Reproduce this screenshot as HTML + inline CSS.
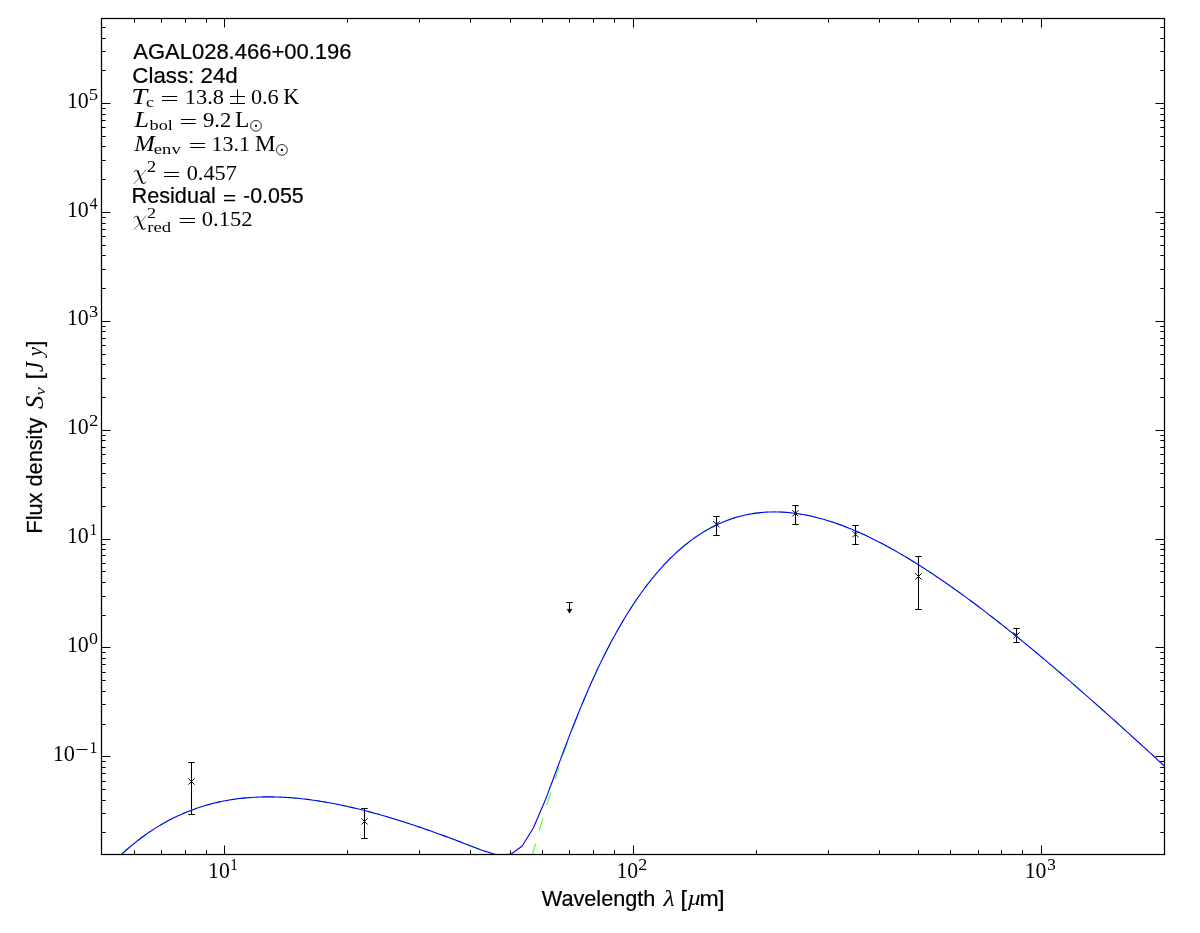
<!DOCTYPE html>
<html><head><meta charset="utf-8"><title>SED</title>
<style>html,body{margin:0;padding:0;background:#fff}svg{display:block;will-change:transform}text{fill:#000}</style>
</head><body>
<svg width="1200" height="933" viewBox="0 0 1200 933">
<rect width="1200" height="933" fill="#fff"/>
<defs><clipPath id="ax"><rect x="101.5" y="18.5" width="1063.0" height="836.0"/></clipPath></defs>
<g stroke="#000" fill="none">
<path d="M191.5 762.5V814.5M188.3 762.5H194.7M188.3 814.5H194.7" stroke-width="1.05"/>
<path d="M188.4 778.4L194.6 784.6M188.4 784.6L194.6 778.4" stroke-width="1.0"/>
<path d="M364.5 808.5V838.5M361.3 808.5H367.7M361.3 838.5H367.7" stroke-width="1.05"/>
<path d="M361.4 818.3L367.6 824.5M361.4 824.5L367.6 818.3" stroke-width="1.0"/>
<path d="M716.5 516.5V535.5M713.3 516.5H719.7M713.3 535.5H719.7" stroke-width="1.05"/>
<path d="M713.4 521.1999999999999L719.6 527.4M713.4 527.4L719.6 521.1999999999999" stroke-width="1.0"/>
<path d="M795.5 505.5V524.5M792.3 505.5H798.7M792.3 524.5H798.7" stroke-width="1.05"/>
<path d="M792.4 510.19999999999993L798.6 516.4M792.4 516.4L798.6 510.19999999999993" stroke-width="1.0"/>
<path d="M855.5 525.5V544.5M852.3 525.5H858.7M852.3 544.5H858.7" stroke-width="1.05"/>
<path d="M852.4 531.1L858.6 537.3000000000001M852.4 537.3000000000001L858.6 531.1" stroke-width="1.0"/>
<path d="M918.5 556.5V609.5M915.3 556.5H921.7M915.3 609.5H921.7" stroke-width="1.05"/>
<path d="M915.4 573.4L921.6 579.6M915.4 579.6L921.6 573.4" stroke-width="1.0"/>
<path d="M1016.5 628.5V642.5M1013.3 628.5H1019.7M1013.3 642.5H1019.7" stroke-width="1.05"/>
<path d="M1013.4 632.3L1019.6 638.5M1013.4 638.5L1019.6 632.3" stroke-width="1.0"/>
<path d="M569.5 602.5V610M566.3 602.5H572.7" stroke-width="1.05"/>
<path d="M567.1 609.2H571.9L569.5 613.2Z" fill="#000" stroke-width="0.5"/>
</g>
<g clip-path="url(#ax)" fill="none">
<polyline points="520.75,899.44 521.00,898.45 521.25,897.46 521.50,896.46 521.75,895.48 522.00,894.49 522.25,893.50 522.50,892.52 522.75,891.54 523.00,890.56 523.25,889.58 523.50,888.60 523.75,887.63 524.00,886.65 524.25,885.68 524.50,884.71 524.75,883.74 525.00,882.78 525.25,881.81 525.50,880.85 525.75,879.89 526.00,878.93 526.25,877.98 526.50,877.02 526.75,876.07 527.00,875.12 527.25,874.17 527.50,873.22 527.75,872.27 528.00,871.33 528.25,870.39 528.50,869.45 528.75,868.51 529.00,867.57 529.25,866.63 529.50,865.70 529.75,864.77 530.00,863.84 530.25,862.91 530.50,861.98 530.75,861.06 531.00,860.14 531.25,859.21 531.50,858.30 531.75,857.38 532.00,856.46 532.25,855.55 532.50,854.63 532.75,853.72 533.00,852.81 533.25,851.91 533.50,851.00 533.75,850.10 534.00,849.19 534.25,848.29 534.50,847.39 534.75,846.50 535.00,845.60 535.25,844.71 535.50,843.82 535.75,842.93 536.00,842.04 536.25,841.15 536.50,840.27 536.75,839.38 537.00,838.50 537.25,837.62 537.50,836.74 537.75,835.86 538.00,834.99 538.25,834.12 538.50,833.24 538.75,832.37 539.00,831.51 539.25,830.64 539.50,829.77 539.75,828.91 540.00,828.05 540.25,827.19 540.50,826.33 540.75,825.47 541.00,824.62 541.25,823.76 541.50,822.91 541.75,822.06 542.00,821.21 542.25,820.37 542.50,819.52 542.75,818.68 543.00,817.84 543.25,817.00 543.50,816.16 543.75,815.32 544.00,814.48 544.25,813.65 544.50,812.82 544.75,811.99 545.00,811.16 545.25,810.33 545.50,809.51 545.75,808.68 546.00,807.86 546.25,807.04 546.50,806.22 546.75,805.40 547.00,804.58 547.25,803.77 547.50,802.96 547.75,802.15 548.00,801.34 548.25,800.53 548.50,799.72 548.75,798.92 549.00,798.11 549.25,797.31 549.50,796.51 549.75,795.71 550.00,794.91 550.25,794.12 550.50,793.32 550.75,792.53 551.00,791.74 551.25,790.95 551.50,790.16 551.75,789.38 552.00,788.59 552.25,787.81 552.50,787.03 552.75,786.25 553.00,785.47 553.25,784.69 553.50,783.92 553.75,783.14 554.00,782.37 554.25,781.60 554.50,780.83 554.75,780.06 555.00,779.30 555.25,778.53 555.50,777.77 555.75,777.01 556.00,776.25 556.25,775.49 556.50,774.73 556.75,773.98 557.00,773.22 557.25,772.47 557.50,771.72 557.75,770.97 558.00,770.22 558.25,769.47 558.50,768.73 558.75,767.99 559.00,767.24 559.25,766.50 559.50,765.76 559.75,765.03 560.00,764.29 560.25,763.56 560.50,762.82 560.75,762.09 561.00,761.36 561.25,760.63 561.50,759.90 561.75,759.18 562.00,758.45 562.25,757.73 562.50,757.01 562.75,756.29 563.00,755.57 563.25,754.85 563.50,754.14 563.75,753.43 564.00,752.71 564.25,752.00 564.50,751.29 564.75,750.58 565.00,749.88 565.25,749.17 565.50,748.47 565.75,747.76 566.00,747.06 566.25,746.36 566.50,745.67 566.75,744.97 567.00,744.27 567.25,743.58 567.50,742.89 567.75,742.20 568.00,741.51 568.25,740.82 568.50,740.13 568.75,739.45 569.00,738.76 569.25,738.08 569.50,737.40 569.75,736.72 570.00,736.04 570.25,735.36 570.50,734.69 570.75,734.01 571.00,733.34 571.25,732.67 571.50,732.00 571.75,731.33 572.00,730.66 572.25,730.00 572.50,729.33 572.75,728.67 573.00,728.01 573.25,727.35 573.50,726.69 573.75,726.03 574.00,725.37 574.25,724.72 574.50,724.07 574.75,723.41 575.00,722.76 575.25,722.11 575.50,721.47 575.75,720.82 576.00,720.17 576.25,719.53 576.50,718.89 576.75,718.25 577.00,717.61 577.25,716.97 577.50,716.33 577.75,715.69 578.00,715.06 578.25,714.43 578.50,713.80 578.75,713.16 579.00,712.54 579.25,711.91 579.50,711.28 579.75,710.66 580.00,710.03 580.25,709.41 580.50,708.79 580.75,708.17 581.00,707.55 581.25,706.93 581.50,706.32 581.75,705.70 582.00,705.09 582.25,704.48 582.50,703.87 582.75,703.26 583.00,702.65 583.25,702.04 583.50,701.44 583.75,700.83 584.00,700.23 584.25,699.63 584.50,699.03 584.75,698.43 585.00,697.83 585.25,697.23 585.50,696.64 585.75,696.05 586.00,695.45 586.25,694.86 586.50,694.27 586.75,693.68 587.00,693.10 587.25,692.51 587.50,691.92 587.75,691.34 588.00,690.76 588.25,690.18 588.50,689.60 588.75,689.02 589.00,688.44 589.25,687.87 589.50,687.29 589.75,686.72 590.00,686.14 590.25,685.57 590.50,685.00 590.75,684.44 591.00,683.87 591.25,683.30 591.50,682.74 591.75,682.17 592.00,681.61 592.25,681.05 592.50,680.49 592.75,679.93 593.00,679.37 593.25,678.82 593.50,678.26 593.75,677.71 594.00,677.16 594.25,676.61 594.50,676.06 594.75,675.51 595.00,674.96 595.25,674.41 595.50,673.87 595.75,673.32 596.00,672.78 596.25,672.24 596.50,671.70 596.75,671.16 597.00,670.62 597.25,670.09 597.50,669.55 597.75,669.02 598.00,668.48 598.25,667.95 598.50,667.42 598.75,666.89 599.00,666.36 599.25,665.84 599.50,665.31 599.75,664.78 600.00,664.26 602.00,660.11 604.00,656.04 606.00,652.05 608.00,648.12 610.00,644.27 612.00,640.49 614.00,636.78 616.00,633.14 618.00,629.57 620.00,626.07 622.00,622.64 624.00,619.27 626.00,615.97 628.00,612.74 630.00,609.56 632.00,606.46 634.00,603.41 636.00,600.43 638.00,597.51 640.00,594.66 642.00,591.86 644.00,589.12 646.00,586.44 648.00,583.82 650.00,581.26 652.00,578.75 654.00,576.30 656.00,573.91 658.00,571.57 660.00,569.29 662.00,567.06 664.00,564.88 666.00,562.76 668.00,560.69 670.00,558.67 672.00,556.70 674.00,554.78 676.00,552.92 678.00,551.10 680.00,549.33 682.00,547.60 684.00,545.93 686.00,544.30 688.00,542.72 690.00,541.18 692.00,539.69 694.00,538.25 696.00,536.85 698.00,535.49 700.00,534.18 702.00,532.91 704.00,531.68 706.00,530.50 708.00,529.35 710.00,528.25 712.00,527.18 714.00,526.16 716.00,525.18 718.00,524.23 720.00,523.33 722.00,522.46 724.00,521.63 726.00,520.84 728.00,520.08 730.00,519.36 732.00,518.68 734.00,518.03 736.00,517.42 738.00,516.84 740.00,516.30 742.00,515.79 744.00,515.31 746.00,514.87 748.00,514.46 750.00,514.08 752.00,513.73 754.00,513.42 756.00,513.13 758.00,512.88 760.00,512.66 762.00,512.47 764.00,512.30 766.00,512.17 768.00,512.06 770.00,511.99 772.00,511.94 774.00,511.92 776.00,511.92 778.00,511.96 780.00,512.02 782.00,512.11 784.00,512.22 786.00,512.36 788.00,512.52 790.00,512.71 792.00,512.93 794.00,513.17 796.00,513.43 798.00,513.71 800.00,514.02 802.00,514.36 804.00,514.71 806.00,515.09 808.00,515.49 810.00,515.92 812.00,516.36 814.00,516.83 816.00,517.32 818.00,517.83 820.00,518.35 822.00,518.90 824.00,519.47 826.00,520.06 828.00,520.67 830.00,521.30 832.00,521.95 834.00,522.61 836.00,523.30 838.00,524.00 840.00,524.72 842.00,525.46 844.00,526.21 846.00,526.98 848.00,527.77 850.00,528.58 852.00,529.40 854.00,530.24 856.00,531.10 858.00,531.97 860.00,532.85 862.00,533.76 864.00,534.67 866.00,535.61 868.00,536.55 870.00,537.52 872.00,538.49 874.00,539.48 876.00,540.49 878.00,541.50 880.00,542.53 882.00,543.58 884.00,544.64 886.00,545.71 888.00,546.79 890.00,547.89 892.00,549.00 894.00,550.12 896.00,551.25 898.00,552.40 900.00,553.55 902.00,554.72 904.00,555.90 906.00,557.09 908.00,558.29 910.00,559.51 912.00,560.73 914.00,561.97 916.00,563.21 918.00,564.47 920.00,565.73 922.00,567.01 924.00,568.29 926.00,569.59 928.00,570.89 930.00,572.21 932.00,573.53 934.00,574.86 936.00,576.20 938.00,577.55 940.00,578.91 942.00,580.28 944.00,581.66 946.00,583.04 948.00,584.44 950.00,585.84 952.00,587.25 954.00,588.67 956.00,590.09 958.00,591.52 960.00,592.96 962.00,594.41 964.00,595.87 966.00,597.33 968.00,598.80 970.00,600.28 972.00,601.76 974.00,603.25 976.00,604.75 978.00,606.26 980.00,607.77 982.00,609.28 984.00,610.81 986.00,612.34 988.00,613.87 990.00,615.42 992.00,616.97 994.00,618.52 996.00,620.08 998.00,621.65 1000.00,623.22 1002.00,624.80 1004.00,626.38 1006.00,627.97 1008.00,629.56 1010.00,631.16 1012.00,632.77 1014.00,634.38 1016.00,635.99 1018.00,637.61 1020.00,639.24 1022.00,640.86 1024.00,642.50 1026.00,644.14 1028.00,645.78 1030.00,647.43 1032.00,649.08 1034.00,650.74 1036.00,652.40 1038.00,654.07 1040.00,655.74 1042.00,657.42 1044.00,659.10 1046.00,660.78 1048.00,662.47 1050.00,664.16 1052.00,665.85 1054.00,667.55 1056.00,669.26 1058.00,670.96 1060.00,672.67 1062.00,674.39 1064.00,676.11 1066.00,677.83 1068.00,679.55 1070.00,681.28 1072.00,683.01 1074.00,684.75 1076.00,686.49 1078.00,688.23 1080.00,689.97 1082.00,691.72 1084.00,693.48 1086.00,695.23 1088.00,696.99 1090.00,698.75 1092.00,700.51 1094.00,702.28 1096.00,704.05 1098.00,705.82 1100.00,707.60 1102.00,709.38 1104.00,711.16 1106.00,712.94 1108.00,714.73 1110.00,716.52 1112.00,718.31 1114.00,720.11 1116.00,721.91 1118.00,723.71 1120.00,725.51 1122.00,727.31 1124.00,729.12 1126.00,730.93 1128.00,732.74 1130.00,734.56 1132.00,736.37 1134.00,738.19 1136.00,740.01 1138.00,741.84 1140.00,743.66 1142.00,745.49 1144.00,747.32 1146.00,749.15 1148.00,750.99 1150.00,752.82 1152.00,754.66 1154.00,756.50 1156.00,758.34 1158.00,760.19 1160.00,762.03 1162.00,763.88 1164.00,765.73 1166.00,767.58 1168.00,769.44 1170.00,771.29" stroke="#4dff33" stroke-width="1.11" stroke-dasharray="13.33 13.33" stroke-dashoffset="8.73"/>
<polyline points="95.50,881.91 96.50,880.72 97.50,879.54 98.50,878.37 99.50,877.21 100.50,876.06 101.50,874.93 102.50,873.80 103.50,872.69 104.50,871.58 105.50,870.49 106.50,869.41 107.50,868.33 108.50,867.27 109.50,866.22 110.50,865.18 111.50,864.15 112.50,863.13 113.50,862.12 114.50,861.12 115.50,860.13 116.50,859.15 117.50,858.18 118.50,857.22 119.50,856.27 120.50,855.33 121.50,854.40 122.50,853.48 123.50,852.56 124.50,851.66 125.50,850.77 126.50,849.88 127.50,849.01 128.50,848.15 129.50,847.29 130.50,846.44 131.50,845.61 132.50,844.78 133.50,843.96 134.50,843.15 135.50,842.35 136.50,841.55 137.50,840.77 138.50,839.99 139.50,839.23 140.50,838.47 141.50,837.72 142.50,836.98 143.50,836.25 144.50,835.53 145.50,834.81 146.50,834.10 147.50,833.41 148.50,832.72 149.50,832.03 150.50,831.36 151.50,830.69 152.50,830.04 153.50,829.39 154.50,828.74 155.50,828.11 156.50,827.48 157.50,826.86 158.50,826.25 159.50,825.65 160.50,825.06 161.50,824.47 162.50,823.89 163.50,823.32 164.50,822.75 165.50,822.19 166.50,821.64 167.50,821.10 168.50,820.56 169.50,820.04 170.50,819.51 171.50,819.00 172.50,818.49 173.50,817.99 174.50,817.50 175.50,817.01 176.50,816.54 177.50,816.06 178.50,815.60 179.50,815.14 180.50,814.69 181.50,814.24 182.50,813.80 183.50,813.37 184.50,812.95 185.50,812.53 186.50,812.12 187.50,811.71 188.50,811.31 189.50,810.92 190.50,810.53 191.50,810.15 192.50,809.78 193.50,809.41 194.50,809.05 195.50,808.69 196.50,808.34 197.50,808.00 198.50,807.66 199.50,807.33 200.50,807.01 201.50,806.69 202.50,806.37 203.50,806.07 204.50,805.76 205.50,805.47 206.50,805.18 207.50,804.89 208.50,804.61 209.50,804.34 210.50,804.07 211.50,803.81 212.50,803.55 213.50,803.30 214.50,803.05 215.50,802.81 216.50,802.58 217.50,802.35 218.50,802.12 219.50,801.90 220.50,801.69 221.50,801.48 222.50,801.28 223.50,801.08 224.50,800.88 225.50,800.69 226.50,800.51 227.50,800.33 228.50,800.16 229.50,799.99 230.50,799.82 231.50,799.66 232.50,799.51 233.50,799.36 234.50,799.21 235.50,799.07 236.50,798.94 237.50,798.81 238.50,798.68 239.50,798.56 240.50,798.44 241.50,798.33 242.50,798.22 243.50,798.11 244.50,798.01 245.50,797.92 246.50,797.83 247.50,797.74 248.50,797.66 249.50,797.58 250.50,797.51 251.50,797.44 252.50,797.37 253.50,797.31 254.50,797.25 255.50,797.20 256.50,797.15 257.50,797.10 258.50,797.06 259.50,797.03 260.50,796.99 261.50,796.96 262.50,796.94 263.50,796.92 264.50,796.90 265.50,796.89 266.50,796.88 267.50,796.87 268.50,796.87 269.50,796.87 270.50,796.87 271.50,796.88 272.50,796.89 273.50,796.91 274.50,796.93 275.50,796.95 276.50,796.98 277.50,797.01 278.50,797.04 279.50,797.08 280.50,797.12 281.50,797.16 282.50,797.21 283.50,797.26 284.50,797.31 285.50,797.37 286.50,797.43 287.50,797.49 288.50,797.56 289.50,797.63 290.50,797.70 291.50,797.78 292.50,797.86 293.50,797.94 294.50,798.03 295.50,798.12 296.50,798.21 297.50,798.30 298.50,798.40 299.50,798.50 300.50,798.60 301.50,798.71 302.50,798.82 303.50,798.93 304.50,799.05 305.50,799.17 306.50,799.29 307.50,799.41 308.50,799.54 309.50,799.67 310.50,799.80 311.50,799.94 312.50,800.07 313.50,800.21 314.50,800.36 315.50,800.50 316.50,800.65 317.50,800.80 318.50,800.96 319.50,801.11 320.50,801.27 321.50,801.43 322.50,801.60 323.50,801.76 324.50,801.93 325.50,802.10 326.50,802.28 327.50,802.45 328.50,802.63 329.50,802.81 330.50,803.00 331.50,803.18 332.50,803.37 333.50,803.56 334.50,803.76 335.50,803.95 336.50,804.15 337.50,804.35 338.50,804.55 339.50,804.76 340.50,804.96 341.50,805.17 342.50,805.38 343.50,805.59 344.50,805.81 345.50,806.03 346.50,806.25 347.50,806.47 348.50,806.69 349.50,806.92 350.50,807.15 351.50,807.38 352.50,807.61 353.50,807.84 354.50,808.08 355.50,808.32 356.50,808.56 357.50,808.80 358.50,809.04 359.50,809.29 360.50,809.54 361.50,809.79 362.50,810.04 363.50,810.29 364.50,810.55 365.50,810.80 366.50,811.06 367.50,811.32 368.50,811.59 369.50,811.85 370.50,812.12 371.50,812.38 372.50,812.65 373.50,812.93 374.50,813.20 375.50,813.47 376.50,813.75 377.50,814.03 378.50,814.31 379.50,814.59 380.50,814.87 381.50,815.16 382.50,815.45 383.50,815.73 384.50,816.02 385.50,816.32 386.50,816.61 387.50,816.90 388.50,817.20 389.50,817.50 390.50,817.80 391.50,818.10 392.50,818.40 393.50,818.71 394.50,819.01 395.50,819.32 396.50,819.63 397.50,819.94 398.50,820.25 399.50,820.56 400.50,820.88 401.50,821.19 402.50,821.51 403.50,821.83 404.50,822.15 405.50,822.47 406.50,822.79 407.50,823.12 408.50,823.44 409.50,823.77 410.50,824.10 411.50,824.43 412.50,824.76 413.50,825.09 414.50,825.42 415.50,825.76 416.50,826.09 417.50,826.43 418.50,826.77 419.50,827.11 420.50,827.45 421.50,827.79 422.50,828.14 423.50,828.48 424.50,828.83 425.50,829.17 426.50,829.52 427.50,829.87 428.50,830.22 429.50,830.58 430.50,830.93 431.50,831.28 432.50,831.64 433.50,832.00 434.50,832.35 435.50,832.71 436.50,833.07 437.50,833.43 438.50,833.80 439.50,834.16 440.50,834.52 441.50,834.89 442.50,835.26 443.50,835.62 444.50,835.99 445.50,836.36 446.50,836.73 447.50,837.11 448.50,837.48 449.50,837.85 450.50,838.23 451.50,838.60 452.50,838.98 453.50,839.36 454.50,839.74 455.50,840.12 456.50,840.50 457.50,840.88 458.50,841.26 459.50,841.65 460.50,842.03 461.50,842.42 462.50,842.80 463.50,843.19 464.50,843.58 465.50,843.97 466.50,844.36 467.50,844.75 468.50,845.14 469.50,845.53 470.50,845.93 471.50,846.32 472.50,846.72 473.50,847.12 474.50,847.51 475.50,847.91 476.50,848.31 477.50,848.71 478.50,849.11 479.50,849.51 480.50,849.91 481.50,850.32 482.50,850.72 483.50,851.13 484.50,851.53 485.50,851.94 486.50,852.35 487.50,852.75 488.50,853.16 489.50,853.57 490.50,853.98 491.50,854.39 492.50,854.80 493.50,855.22 494.50,855.63 495.50,856.04 496.50,856.46 497.50,856.88 498.50,857.29 499.50,857.71 500.50,858.13 501.50,858.54 502.50,858.96 503.50,859.38 504.50,859.80 505.50,860.23 506.50,860.65 507.50,861.07 508.50,861.49 509.50,861.92 510.50,862.34 511.50,862.77 512.50,863.19 513.50,863.62 514.50,864.05 515.50,864.48 516.50,864.90 517.50,865.33 518.50,865.76 519.50,866.19 520.50,866.63 521.50,867.06 522.50,867.49 523.50,867.92 524.50,868.36 525.50,868.79 526.50,869.23 527.50,869.66 528.50,870.10 529.50,870.53 530.50,870.97 531.50,871.41 532.50,871.85 533.50,872.29 534.50,872.73 535.50,873.17 536.50,873.61 537.50,874.05 538.50,874.49 539.50,874.93 540.50,875.38 541.50,875.82 542.50,876.26 543.50,876.71 544.50,877.15 545.50,877.60 546.50,878.05 547.50,878.49 548.50,878.94 549.50,879.39 550.50,879.84 551.50,880.28 552.50,880.73 553.50,881.18 554.50,881.63 555.50,882.08 556.50,882.54 557.50,882.99 558.50,883.44 559.50,883.89 560.50,884.35 561.50,884.80 562.50,885.25 563.50,885.71 564.50,886.16 565.50,886.62 566.50,887.08 567.50,887.53 568.50,887.99 569.50,888.45 570.50,888.91 571.50,889.36 572.50,889.82 573.50,890.28 574.50,890.74 575.50,891.20 576.50,891.66 577.50,892.12 578.50,892.59 579.50,893.05 580.50,893.51 581.50,893.97 582.50,894.44 583.50,894.90 584.50,895.36 585.50,895.83 586.50,896.29 587.50,896.76 588.50,897.22 589.50,897.69 590.50,898.16 591.50,898.62 592.50,899.09 593.50,899.56" stroke="#4dff33" stroke-width="1.11" stroke-dasharray="13.33 13.33" stroke-dashoffset="20.50"/>
<polyline points="95.50,881.91 97.50,879.54 99.50,877.21 101.50,874.93 103.50,872.69 105.50,870.49 107.50,868.33 109.50,866.22 111.50,864.15 113.50,862.12 115.50,860.13 117.50,858.18 119.50,856.27 121.50,854.40 123.50,852.56 125.50,850.77 127.50,849.01 129.50,847.29 131.50,845.61 133.50,843.96 135.50,842.35 137.50,840.77 139.50,839.23 141.50,837.72 143.50,836.25 145.50,834.81 147.50,833.41 149.50,832.03 151.50,830.69 153.50,829.39 155.50,828.11 157.50,826.86 159.50,825.65 161.50,824.47 163.50,823.32 165.50,822.19 167.50,821.10 169.50,820.04 171.50,819.00 173.50,817.99 175.50,817.01 177.50,816.06 179.50,815.14 181.50,814.24 183.50,813.37 185.50,812.53 187.50,811.71 189.50,810.92 191.50,810.15 193.50,809.41 195.50,808.69 197.50,808.00 199.50,807.33 201.50,806.69 203.50,806.07 205.50,805.47 207.50,804.89 209.50,804.34 211.50,803.81 213.50,803.30 215.50,802.81 217.50,802.35 219.50,801.90 221.50,801.48 223.50,801.08 225.50,800.69 227.50,800.33 229.50,799.99 231.50,799.66 233.50,799.36 235.50,799.07 237.50,798.81 239.50,798.56 241.50,798.33 243.50,798.11 245.50,797.92 247.50,797.74 249.50,797.58 251.50,797.44 253.50,797.31 255.50,797.20 257.50,797.10 259.50,797.03 261.50,796.96 263.50,796.92 265.50,796.89 267.50,796.87 269.50,796.87 271.50,796.88 273.50,796.91 275.50,796.95 277.50,797.01 279.50,797.08 281.50,797.16 283.50,797.26 285.50,797.37 287.50,797.49 289.50,797.63 291.50,797.78 293.50,797.94 295.50,798.12 297.50,798.30 299.50,798.50 301.50,798.71 303.50,798.93 305.50,799.17 307.50,799.41 309.50,799.67 311.50,799.94 313.50,800.21 315.50,800.50 317.50,800.80 319.50,801.11 321.50,801.43 323.50,801.76 325.50,802.10 327.50,802.45 329.50,802.81 331.50,803.18 333.50,803.56 335.50,803.95 337.50,804.35 339.50,804.76 341.50,805.17 343.50,805.59 345.50,806.03 347.50,806.47 349.50,806.92 351.50,807.38 353.50,807.84 355.50,808.32 357.50,808.80 359.50,809.29 361.50,809.79 363.50,810.29 365.50,810.80 367.50,811.32 369.50,811.85 371.50,812.38 373.50,812.93 375.50,813.47 377.50,814.03 379.50,814.59 381.50,815.16 383.50,815.73 385.50,816.32 387.50,816.90 389.50,817.50 391.50,818.10 393.50,818.71 395.50,819.32 397.50,819.94 399.50,820.56 401.50,821.19 403.50,821.83 405.50,822.47 407.50,823.12 409.50,823.77 411.50,824.43 413.50,825.09 415.50,825.76 417.50,826.43 419.50,827.11 421.50,827.79 423.50,828.48 425.50,829.17 427.50,829.87 429.50,830.58 431.50,831.28 433.50,832.00 435.50,832.71 437.50,833.43 439.50,834.16 441.50,834.89 443.50,835.62 445.50,836.36 447.50,837.10 449.50,837.85 451.50,838.60 453.50,839.35 455.50,840.10 457.50,840.86 459.50,841.62 461.50,842.39 463.50,843.15 465.50,843.92 467.50,844.69 469.50,845.45 471.50,846.22 473.50,846.98 475.50,847.74 477.50,848.49 479.50,849.23 481.50,849.96 483.50,850.67 485.50,851.36 487.50,852.02 489.50,852.65 491.50,853.24 493.50,853.78 495.50,854.26 497.50,854.66 499.50,854.98 499.60,854.99 510.80,854.19 522.00,846.20 533.20,828.31 544.40,802.29 546.40,797.13 548.40,791.88 550.40,786.57 552.40,781.20 554.40,775.81 556.40,770.41 558.40,765.00 560.40,759.61 562.40,754.25 564.40,748.91 566.40,743.62 568.40,738.37 570.40,733.17 572.40,728.03 574.40,722.95 576.40,717.93 578.40,712.98 580.40,708.09 582.40,703.28 584.40,698.53 586.40,693.85 588.40,689.25 590.40,684.71 592.40,680.25 594.40,675.86 596.40,671.55 598.40,667.30 600.40,663.13 602.40,659.03 604.40,655.00 606.40,651.04 608.40,647.15 610.40,643.33 612.40,639.58 614.40,635.90 616.40,632.29 618.40,628.75 620.40,625.27 622.40,621.86 624.40,618.52 626.40,615.24 628.40,612.02 630.40,608.87 632.40,605.78 634.40,602.75 636.40,599.79 638.40,596.89 640.40,594.05 642.40,591.26 644.40,588.54 646.40,585.88 648.40,583.27 650.40,580.72 652.40,578.23 654.40,575.79 656.40,573.41 658.40,571.09 660.40,568.82 662.40,566.60 664.40,564.44 666.40,562.33 668.40,560.27 670.40,558.26 672.40,556.30 674.40,554.39 676.40,552.53 678.40,550.73 680.40,548.97 682.40,547.25 684.40,545.59 686.40,543.97 688.40,542.40 690.40,540.87 692.40,539.39 694.40,537.96 696.40,536.57 698.40,535.22 700.40,533.92 702.40,532.65 704.40,531.43 706.40,530.26 708.40,529.12 710.40,528.03 712.40,526.97 714.40,525.96 716.40,524.98 718.40,524.05 720.40,523.15 722.40,522.29 724.40,521.47 726.40,520.68 728.40,519.93 730.40,519.22 732.40,518.54 734.40,517.90 736.40,517.30 738.40,516.73 740.40,516.19 742.40,515.69 744.40,515.22 746.40,514.78 748.40,514.38 750.40,514.01 752.40,513.67 754.40,513.36 756.40,513.08 758.40,512.83 760.40,512.62 762.40,512.43 764.40,512.27 766.40,512.14 768.40,512.04 770.40,511.97 772.40,511.93 774.40,511.91 776.40,511.93 778.40,511.97 780.40,512.03 782.40,512.12 784.40,512.24 786.40,512.39 788.40,512.56 790.40,512.75 792.40,512.97 794.40,513.21 796.40,513.48 798.40,513.77 800.40,514.09 802.40,514.43 804.40,514.79 806.40,515.17 808.40,515.58 810.40,516.00 812.40,516.45 814.40,516.92 816.40,517.42 818.40,517.93 820.40,518.46 822.40,519.01 824.40,519.59 826.40,520.18 828.40,520.79 830.40,521.43 832.40,522.08 834.40,522.75 836.40,523.43 838.40,524.14 840.40,524.86 842.40,525.60 844.40,526.36 846.40,527.14 848.40,527.93 850.40,528.74 852.40,529.57 854.40,530.41 856.40,531.27 858.40,532.14 860.40,533.03 862.40,533.94 864.40,534.86 866.40,535.79 868.40,536.74 870.40,537.71 872.40,538.69 874.40,539.68 876.40,540.69 878.40,541.71 880.40,542.74 882.40,543.79 884.40,544.85 886.40,545.92 888.40,547.01 890.40,548.11 892.40,549.22 894.40,550.34 896.40,551.48 898.40,552.63 900.40,553.79 902.40,554.96 904.40,556.14 906.40,557.33 908.40,558.54 910.40,559.75 912.40,560.98 914.40,562.21 916.40,563.46 918.40,564.72 920.40,565.99 922.40,567.26 924.40,568.55 926.40,569.85 928.40,571.15 930.40,572.47 932.40,573.79 934.40,575.13 936.40,576.47 938.40,577.82 940.40,579.19 942.40,580.56 944.40,581.93 946.40,583.32 948.40,584.72 950.40,586.12 952.40,587.53 954.40,588.95 956.40,590.38 958.40,591.81 960.40,593.25 962.40,594.70 964.40,596.16 966.40,597.62 968.40,599.09 970.40,600.57 972.40,602.06 974.40,603.55 976.40,605.05 978.40,606.56 980.40,608.07 982.40,609.59 984.40,611.11 986.40,612.64 988.40,614.18 990.40,615.72 992.40,617.27 994.40,618.83 996.40,620.39 998.40,621.96 1000.40,623.53 1002.40,625.11 1004.40,626.69 1006.40,628.28 1008.40,629.88 1010.40,631.48 1012.40,633.09 1014.40,634.70 1016.40,636.31 1018.40,637.93 1020.40,639.56 1022.40,641.19 1024.40,642.82 1026.40,644.46 1028.40,646.11 1030.40,647.76 1032.40,649.41 1034.40,651.07 1036.40,652.73 1038.40,654.40 1040.40,656.07 1042.40,657.75 1044.40,659.43 1046.40,661.11 1048.40,662.80 1050.40,664.49 1052.40,666.19 1054.40,667.89 1056.40,669.59 1058.40,671.30 1060.40,673.01 1062.40,674.73 1064.40,676.45 1066.40,678.17 1068.40,679.89 1070.40,681.62 1072.40,683.36 1074.40,685.09 1076.40,686.83 1078.40,688.58 1080.40,690.32 1082.40,692.07 1084.40,693.82 1086.40,695.58 1088.40,697.34 1090.40,699.10 1092.40,700.86 1094.40,702.63 1096.40,704.40 1098.40,706.18 1100.40,707.95 1102.40,709.73 1104.40,711.51 1106.40,713.30 1108.40,715.09 1110.40,716.88 1112.40,718.67 1114.40,720.46 1116.40,722.26 1118.40,724.06 1120.40,725.86 1122.40,727.67 1124.40,729.48 1126.40,731.29 1128.40,733.10 1130.40,734.92 1132.40,736.73 1134.40,738.55 1136.40,740.37 1138.40,742.20 1140.40,744.02 1142.40,745.85 1144.40,747.68 1146.40,749.51 1148.40,751.35 1150.40,753.19 1152.40,755.02 1154.40,756.86 1156.40,758.71 1158.40,760.55 1160.40,762.40 1162.40,764.25 1164.40,766.10 1166.40,767.95 1168.40,769.80 1170.40,771.66" stroke="#0000ff" stroke-width="1.11" stroke-linejoin="round"/>
</g>
<path d="M134.5 854.5v-4.2M134.5 18.5v4.2M161.5 854.5v-4.2M161.5 18.5v4.2M185.5 854.5v-4.2M185.5 18.5v4.2M206.5 854.5v-4.2M206.5 18.5v4.2M224.5 854.5v-9.0M224.5 18.5v9.0M347.5 854.5v-4.2M347.5 18.5v4.2M419.5 854.5v-4.2M419.5 18.5v4.2M470.5 854.5v-4.2M470.5 18.5v4.2M510.5 854.5v-4.2M510.5 18.5v4.2M542.5 854.5v-4.2M542.5 18.5v4.2M569.5 854.5v-4.2M569.5 18.5v4.2M593.5 854.5v-4.2M593.5 18.5v4.2M614.5 854.5v-4.2M614.5 18.5v4.2M633.5 854.5v-9.0M633.5 18.5v9.0M756.5 854.5v-4.2M756.5 18.5v4.2M828.5 854.5v-4.2M828.5 18.5v4.2M879.5 854.5v-4.2M879.5 18.5v4.2M918.5 854.5v-4.2M918.5 18.5v4.2M950.5 854.5v-4.2M950.5 18.5v4.2M978.5 854.5v-4.2M978.5 18.5v4.2M1001.5 854.5v-4.2M1001.5 18.5v4.2M1022.5 854.5v-4.2M1022.5 18.5v4.2M1041.5 854.5v-9.0M1041.5 18.5v9.0M101.5 832.5h4.2M1164.5 832.5h-4.2M101.5 813.5h4.2M1164.5 813.5h-4.2M101.5 800.5h4.2M1164.5 800.5h-4.2M101.5 789.5h4.2M1164.5 789.5h-4.2M101.5 781.5h4.2M1164.5 781.5h-4.2M101.5 773.5h4.2M1164.5 773.5h-4.2M101.5 767.5h4.2M1164.5 767.5h-4.2M101.5 761.5h4.2M1164.5 761.5h-4.2M101.5 756.5h9.0M1164.5 756.5h-9.0M101.5 724.5h4.2M1164.5 724.5h-4.2M101.5 704.5h4.2M1164.5 704.5h-4.2M101.5 691.5h4.2M1164.5 691.5h-4.2M101.5 680.5h4.2M1164.5 680.5h-4.2M101.5 672.5h4.2M1164.5 672.5h-4.2M101.5 664.5h4.2M1164.5 664.5h-4.2M101.5 658.5h4.2M1164.5 658.5h-4.2M101.5 652.5h4.2M1164.5 652.5h-4.2M101.5 647.5h9.0M1164.5 647.5h-9.0M101.5 615.5h4.2M1164.5 615.5h-4.2M101.5 596.5h4.2M1164.5 596.5h-4.2M101.5 582.5h4.2M1164.5 582.5h-4.2M101.5 571.5h4.2M1164.5 571.5h-4.2M101.5 563.5h4.2M1164.5 563.5h-4.2M101.5 555.5h4.2M1164.5 555.5h-4.2M101.5 549.5h4.2M1164.5 549.5h-4.2M101.5 544.5h4.2M1164.5 544.5h-4.2M101.5 539.5h9.0M1164.5 539.5h-9.0M101.5 506.5h4.2M1164.5 506.5h-4.2M101.5 487.5h4.2M1164.5 487.5h-4.2M101.5 473.5h4.2M1164.5 473.5h-4.2M101.5 463.5h4.2M1164.5 463.5h-4.2M101.5 454.5h4.2M1164.5 454.5h-4.2M101.5 447.5h4.2M1164.5 447.5h-4.2M101.5 440.5h4.2M1164.5 440.5h-4.2M101.5 435.5h4.2M1164.5 435.5h-4.2M101.5 430.5h9.0M1164.5 430.5h-9.0M101.5 397.5h4.2M1164.5 397.5h-4.2M101.5 378.5h4.2M1164.5 378.5h-4.2M101.5 364.5h4.2M1164.5 364.5h-4.2M101.5 354.5h4.2M1164.5 354.5h-4.2M101.5 345.5h4.2M1164.5 345.5h-4.2M101.5 338.5h4.2M1164.5 338.5h-4.2M101.5 331.5h4.2M1164.5 331.5h-4.2M101.5 326.5h4.2M1164.5 326.5h-4.2M101.5 321.5h9.0M1164.5 321.5h-9.0M101.5 288.5h4.2M1164.5 288.5h-4.2M101.5 269.5h4.2M1164.5 269.5h-4.2M101.5 255.5h4.2M1164.5 255.5h-4.2M101.5 245.5h4.2M1164.5 245.5h-4.2M101.5 236.5h4.2M1164.5 236.5h-4.2M101.5 229.5h4.2M1164.5 229.5h-4.2M101.5 223.5h4.2M1164.5 223.5h-4.2M101.5 217.5h4.2M1164.5 217.5h-4.2M101.5 212.5h9.0M1164.5 212.5h-9.0M101.5 179.5h4.2M1164.5 179.5h-4.2M101.5 160.5h4.2M1164.5 160.5h-4.2M101.5 146.5h4.2M1164.5 146.5h-4.2M101.5 136.5h4.2M1164.5 136.5h-4.2M101.5 127.5h4.2M1164.5 127.5h-4.2M101.5 120.5h4.2M1164.5 120.5h-4.2M101.5 114.5h4.2M1164.5 114.5h-4.2M101.5 108.5h4.2M1164.5 108.5h-4.2M101.5 103.5h9.0M1164.5 103.5h-9.0M101.5 70.5h4.2M1164.5 70.5h-4.2M101.5 51.5h4.2M1164.5 51.5h-4.2M101.5 38.5h4.2M1164.5 38.5h-4.2M101.5 27.5h4.2M1164.5 27.5h-4.2" stroke="#000" stroke-width="1" fill="none"/>
<rect x="101.5" y="18.5" width="1063.0" height="836.0" fill="none" stroke="#000" stroke-width="1.25"/>
<path d="M76.5 749.5H87.4" stroke="#000" stroke-width="1.0"/>
<path d="M224.0 195.75H235.1M224.0 200.4H235.1" stroke="#000" stroke-width="1.5"/><path d="M244.1 196.9H249.1" stroke="#000" stroke-width="1.7"/>
<path d="M162.0 96.5H177.1M162.0 100.5H177.1" stroke="#000" stroke-width="1.0"/>
<path d="M230.05 96.5H244.95M237.5 89.5V103.5M230.05 103.5H244.95" stroke="#000" stroke-width="1.0" fill="none"/>
<path d="M180.9 119.5H195.8M180.9 123.5H195.8" stroke="#000" stroke-width="1.0"/>
<circle cx="256.0" cy="125.85" r="5.4" fill="none" stroke="#000" stroke-width="0.8"/><circle cx="256.0" cy="125.85" r="1.2" fill="#000"/>
<path d="M190.1 143.5H205.1M190.1 147.5H205.1" stroke="#000" stroke-width="1.0"/>
<circle cx="281.9" cy="149.9" r="5.4" fill="none" stroke="#000" stroke-width="0.8"/><circle cx="281.9" cy="149.9" r="1.2" fill="#000"/>
<g transform="translate(134.0,179.7)" fill="none" stroke="#000" stroke-linecap="round"><path d="M0.15,-8.0C0.6,-9.3 2.3,-9.9 3.5,-9.1" stroke-width="0.85"/><path d="M3.5,-9.1L8.4,3.5" stroke-width="1.75" stroke-linecap="butt"/><path d="M8.3,3.4C9.2,4.5 10.9,3.9 11.75,2.5" stroke-width="0.85"/><path d="M0.1,4.0L11.7,-9.5" stroke-width="0.6" stroke="#222"/></g>
<path d="M164.05 172.5H179.05M164.05 176.5H179.05" stroke="#000" stroke-width="1.0"/>
<g transform="translate(134.0,225.6)" fill="none" stroke="#000" stroke-linecap="round"><path d="M0.15,-8.0C0.6,-9.3 2.3,-9.9 3.5,-9.1" stroke-width="0.85"/><path d="M3.5,-9.1L8.4,3.5" stroke-width="1.75" stroke-linecap="butt"/><path d="M8.3,3.4C9.2,4.5 10.9,3.9 11.75,2.5" stroke-width="0.85"/><path d="M0.1,4.0L11.7,-9.5" stroke-width="0.6" stroke="#222"/></g>
<path d="M179.7 218.5H195.0M179.7 222.5H195.0" stroke="#000" stroke-width="1.0"/>
<text transform="translate(208.07,877.74) scale(1.0066,1.0256)" font-family="Liberation Serif" font-size="21.6">10</text>
<text transform="translate(230.37,870.00) scale(1.0095,1.1139)" font-family="Liberation Serif" font-size="15">1</text>
<text transform="translate(616.40,877.74) scale(1.0066,1.0256)" font-family="Liberation Serif" font-size="21.6">10</text>
<text transform="translate(638.24,870.00) scale(1.2000,1.1139)" font-family="Liberation Serif" font-size="15">2</text>
<text transform="translate(1024.73,877.74) scale(1.0066,1.0256)" font-family="Liberation Serif" font-size="21.6">10</text>
<text transform="translate(1047.16,869.86) scale(1.1429,1.1000)" font-family="Liberation Serif" font-size="15">3</text>
<text transform="translate(52.66,760.74) scale(1.0331,1.0256)" font-family="Liberation Serif" font-size="21.6">10</text>
<text transform="translate(89.40,753.00) scale(1.0571,1.1139)" font-family="Liberation Serif" font-size="15">1</text>
<text transform="translate(66.90,651.74) scale(1.0119,1.0256)" font-family="Liberation Serif" font-size="21.6">10</text>
<text transform="translate(89.05,643.86) scale(1.2000,1.0864)" font-family="Liberation Serif" font-size="15">0</text>
<text transform="translate(66.90,542.74) scale(1.0119,1.0256)" font-family="Liberation Serif" font-size="21.6">10</text>
<text transform="translate(89.64,535.00) scale(0.9905,1.1139)" font-family="Liberation Serif" font-size="15">1</text>
<text transform="translate(66.90,433.74) scale(1.0119,1.0256)" font-family="Liberation Serif" font-size="21.6">10</text>
<text transform="translate(89.02,426.00) scale(1.2500,1.1139)" font-family="Liberation Serif" font-size="15">2</text>
<text transform="translate(66.90,324.74) scale(1.0119,1.0256)" font-family="Liberation Serif" font-size="21.6">10</text>
<text transform="translate(88.88,316.86) scale(1.2245,1.1000)" font-family="Liberation Serif" font-size="15">3</text>
<text transform="translate(66.90,216.74) scale(1.0119,1.0256)" font-family="Liberation Serif" font-size="21.6">10</text>
<text transform="translate(89.53,209.00) scale(1.0714,1.1139)" font-family="Liberation Serif" font-size="15">4</text>
<text transform="translate(66.90,107.74) scale(1.0119,1.0256)" font-family="Liberation Serif" font-size="21.6">10</text>
<text transform="translate(88.71,99.86) scale(1.2500,1.1139)" font-family="Liberation Serif" font-size="15">5</text>
<text transform="translate(541.78,905.85) scale(0.9846,1.0000)" font-family="Liberation Sans" font-size="22" stroke="#000" stroke-width="0.22">Wavelength</text>
<text transform="translate(663.56,905.75) scale(1.1241,0.9767)" font-family="Liberation Serif" font-size="23" font-style="italic">λ</text>
<text transform="translate(680.45,905.85) scale(1.0743,1.0000)" font-family="Liberation Sans" font-size="22" stroke="#000" stroke-width="0.22">[</text>
<text transform="translate(687.37,905.35) scale(1.1388,0.9831)" font-family="Liberation Serif" font-size="22" font-style="italic">µ</text>
<text transform="translate(699.53,905.85) scale(1.0472,1.0000)" font-family="Liberation Sans" font-size="22" stroke="#000" stroke-width="0.22">m</text>
<text transform="translate(717.97,905.85) scale(1.0743,1.0000)" font-family="Liberation Sans" font-size="22" stroke="#000" stroke-width="0.22">]</text>
<text transform="translate(133.28,58.80) scale(0.9998,1.0000)" font-family="Liberation Sans" font-size="22" stroke="#000" stroke-width="0.22">AGAL028.466+00.196</text>
<text transform="translate(132.36,82.70) scale(1.0141,1.0000)" font-family="Liberation Sans" font-size="22" stroke="#000" stroke-width="0.22">Class: 24d</text>
<text transform="translate(131.53,202.75) scale(0.9851,1.0000)" font-family="Liberation Sans" font-size="22" stroke="#000" stroke-width="0.22">Residual</text>
<text transform="translate(250.15,202.75) scale(0.9728,1.0000)" font-family="Liberation Sans" font-size="22" stroke="#000" stroke-width="0.22">0.055</text>
<text transform="translate(131.36,103.90) scale(1.2917,1.0226)" font-family="Liberation Serif" font-size="22" font-style="italic">T</text>
<text transform="translate(145.97,106.60) scale(1.1652,0.9241)" font-family="Liberation Serif" font-size="15.4">c</text>
<text transform="translate(184.75,103.90) scale(1.0391,1.0017)" font-family="Liberation Serif" font-size="21.6">13.8</text>
<text transform="translate(250.90,103.90) scale(1.0314,1.0017)" font-family="Liberation Serif" font-size="21.6">0.6</text>
<text transform="translate(283.17,103.90) scale(1.0067,1.0157)" font-family="Liberation Serif" font-size="22">K</text>
<text transform="translate(134.20,126.90) scale(1.2044,1.0226)" font-family="Liberation Serif" font-size="22" font-style="italic">L</text>
<text transform="translate(149.50,129.60) scale(1.1871,1.0071)" font-family="Liberation Serif" font-size="15.4">bol</text>
<text transform="translate(202.91,126.90) scale(1.0540,1.0105)" font-family="Liberation Serif" font-size="21.6">9.2</text>
<text transform="translate(235.08,126.90) scale(1.0652,1.0157)" font-family="Liberation Serif" font-size="22">L</text>
<text transform="translate(134.28,150.70) scale(1.1210,1.0087)" font-family="Liberation Serif" font-size="22" font-style="italic">M</text>
<text transform="translate(153.84,153.60) scale(1.2092,1.0000)" font-family="Liberation Serif" font-size="15.4">env</text>
<text transform="translate(211.59,150.70) scale(1.0195,1.0105)" font-family="Liberation Serif" font-size="21.6">13.1</text>
<text transform="translate(255.04,150.70) scale(1.0493,1.0087)" font-family="Liberation Serif" font-size="22">M</text>
<text transform="translate(147.04,171.50) scale(1.2167,1.0532)" font-family="Liberation Serif" font-size="15">2</text>
<text transform="translate(186.70,179.70) scale(1.0334,1.0087)" font-family="Liberation Serif" font-size="21.6">0.457</text>
<text transform="translate(147.04,217.80) scale(1.2167,1.0329)" font-family="Liberation Serif" font-size="15">2</text>
<text transform="translate(147.30,231.70) scale(1.2156,1.0071)" font-family="Liberation Serif" font-size="15.4">red</text>
<text transform="translate(201.79,225.60) scale(1.0452,1.0087)" font-family="Liberation Serif" font-size="21.6">0.152</text>
<g transform="translate(0,600) rotate(-90)">
<text transform="translate(66.37,42.00) scale(0.9887,1.0000)" font-family="Liberation Sans" font-size="22" stroke="#000" stroke-width="0.22">Flux density</text>
<text transform="translate(190.89,42.60) scale(1.2337,1.1034)" font-family="Liberation Serif" font-size="22" font-style="italic">S</text>
<text transform="translate(204.86,45.00) scale(1.1698,1.0143)" font-family="Liberation Serif" font-size="15.4" font-style="italic">ν</text>
<text transform="translate(220.87,42.00) scale(1.0057,1.0000)" font-family="Liberation Sans" font-size="22" stroke="#000" stroke-width="0.22">[</text>
<text transform="translate(227.90,42.70) scale(1.0537,1.1061)" font-family="Liberation Serif" font-size="22" font-style="italic">J</text>
<text transform="translate(243.76,42.40) scale(0.9376,1.0000)" font-family="Liberation Serif" font-size="22" font-style="italic">y</text>
<text transform="translate(253.27,42.00) scale(1.0057,1.0000)" font-family="Liberation Sans" font-size="22" stroke="#000" stroke-width="0.22">]</text>
</g>
</svg>
</body></html>
